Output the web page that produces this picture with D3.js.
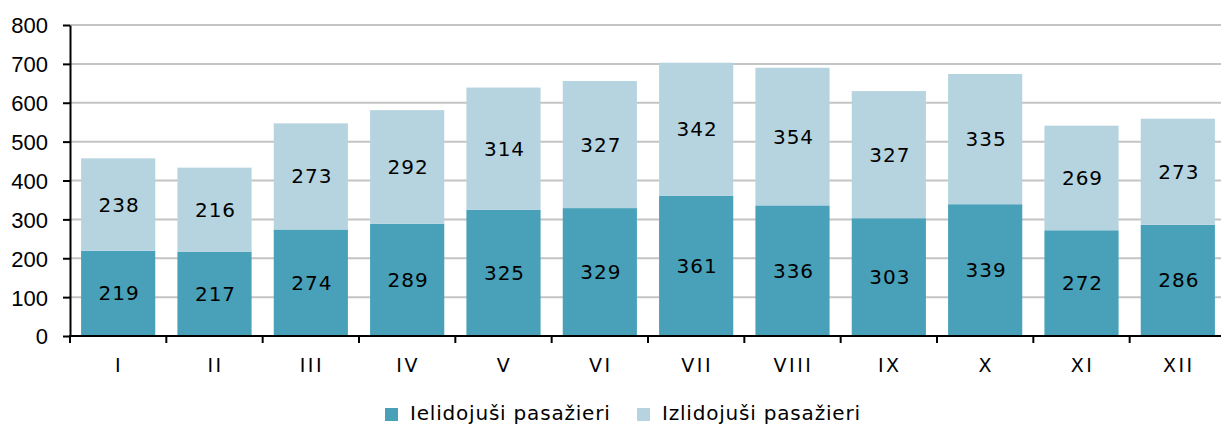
<!doctype html>
<html>
<head>
<meta charset="utf-8">
<script src="https://d3js.org/d3.v7.min.js"></script>
<style>
  body { margin: 0; background: #fff; }
  svg { display: block; }
  .lbl { font-family: "DejaVu Sans", Verdana, sans-serif; font-size: 20px; fill: #000; letter-spacing: 1px; }
  .ytick { font-family: "Liberation Sans", Arial, sans-serif; font-size: 22px; fill: #000; }
</style>
</head>
<body>
<script>
  var months = ["I","II","III","IV","V","VI","VII","VIII","IX","X","XI","XII"];
  var arriving = [219,217,274,289,325,329,361,336,303,339,272,286];
  var departing = [238,216,273,292,314,327,342,354,327,335,269,273];
  var seriesNames = ["Ielidojuši pasažieri", "Izlidojuši pasažieri"];
  var yTicks = [0,100,200,300,400,500,600,700,800];

  var colors = ["#48a1b9", "#b6d4df"];
  var width = 1221, height = 424;
  var x0 = 70, yBase = 336, yTop = 25;

  var svg = d3.select("body").append("svg").attr("width", width).attr("height", height);

  var xscale = d3.scaleBand().domain(months).range([x0, 1226]).paddingInner(0.23).paddingOuter(0.115);
  var yscale = d3.scaleLinear().domain([0, 800]).range([yBase, yTop]);

  // gridlines
  svg.append("g").selectAll("line").data(yTicks.slice(1)).enter().append("line")
    .attr("x1", x0).attr("x2", width)
    .attr("y1", function(d){ return yscale(d); }).attr("y2", function(d){ return yscale(d); })
    .attr("stroke", "#c4c4c4").attr("stroke-width", 2);

  var rows = months.map(function(m, i){ return {m: m, a: arriving[i], d: departing[i]}; });
  var stack = d3.stack().keys(["a","d"])(rows);

  var layers = svg.append("g").selectAll("g").data(stack).enter().append("g")
    .attr("fill", function(d, i){ return colors[i]; });

  layers.selectAll("rect").data(function(d){ return d; }).enter().append("rect")
    .attr("x", function(d){ return xscale(d.data.m); })
    .attr("width", xscale.bandwidth())
    .attr("y", function(d){ return yscale(d[1]); })
    .attr("height", function(d){ return yscale(d[0]) - yscale(d[1]); });

  layers.selectAll("text").data(function(d){ return d; }).enter().append("text")
    .attr("class", "lbl")
    .attr("text-anchor", "middle")
    .attr("x", function(d){ return xscale(d.data.m) + xscale.bandwidth() / 2 + 1; })
    .attr("y", function(d){ return (yscale(d[0]) + yscale(d[1])) / 2 + 7; })
    .text(function(d){ return d[1] - d[0]; });

  // y axis
  var yaxis = svg.append("g").attr("transform", "translate(" + x0 + ",0)")
    .call(d3.axisLeft(yscale).tickValues(yTicks).tickSize(7).tickSizeOuter(0));
  yaxis.select(".domain").attr("stroke", "#000").attr("stroke-width", 2);
  yaxis.selectAll(".tick line").attr("stroke", "#000").attr("stroke-width", 2);
  yaxis.selectAll(".tick text").attr("class", "ytick").attr("x", -22).attr("dy", "0.36em");

  // x axis
  svg.append("line").attr("x1", x0 - 1).attr("x2", width).attr("y1", yBase).attr("y2", yBase)
    .attr("stroke", "#000").attr("stroke-width", 2);
  var step = xscale.step();
  svg.append("g").selectAll("line").data(months).enter().append("line")
    .attr("x1", function(d){ return xscale(d) - (step - xscale.bandwidth()) / 2; })
    .attr("x2", function(d){ return xscale(d) - (step - xscale.bandwidth()) / 2; })
    .attr("y1", yBase).attr("y2", yBase + 7)
    .attr("stroke", "#000").attr("stroke-width", 2);
  svg.append("g").selectAll("text").data(months).enter().append("text")
    .attr("class", "lbl").attr("text-anchor", "middle")
    .attr("x", function(d){ return xscale(d) + xscale.bandwidth() / 2 + 1; })
    .attr("y", 372)
    .style("font-size", "19px").style("letter-spacing", "2.5px")
    .text(function(d){ return d; });

  // legend
  var legX = [385, 637];
  var leg = svg.append("g").selectAll("g").data(seriesNames).enter().append("g")
    .attr("transform", function(d, i){ return "translate(" + legX[i] + ",408)"; });
  leg.append("rect").attr("width", 13).attr("height", 13)
    .attr("fill", function(d, i){ return colors[i]; });
  leg.append("text").attr("class", "lbl").attr("x", 25).attr("y", 12)
    .style("letter-spacing", "0.8px")
    .text(function(d){ return d; });
</script>
</body>
</html>
